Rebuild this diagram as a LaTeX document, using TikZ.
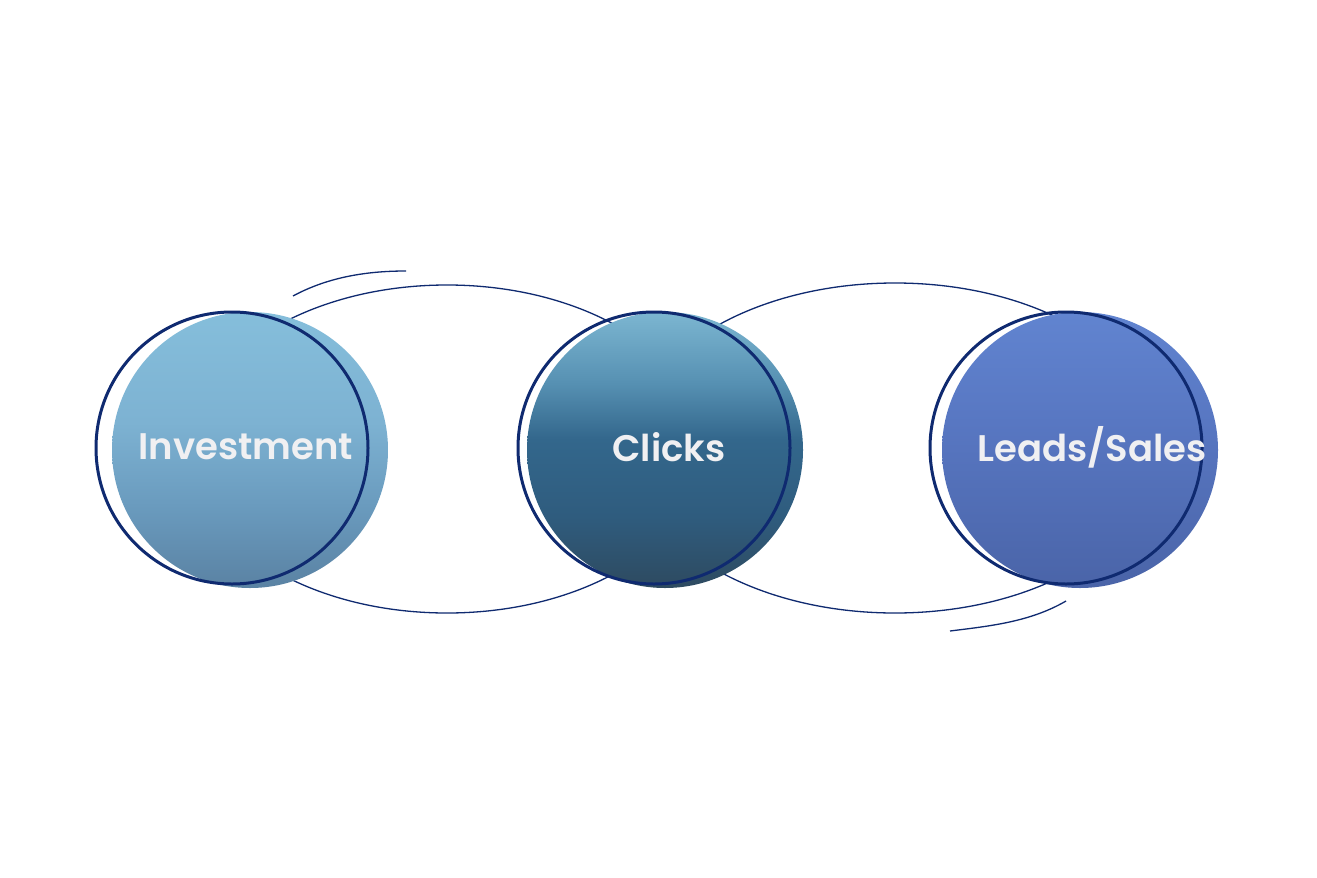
\documentclass[tikz,border=0pt]{standalone}
\usepackage{fontspec}
\setmainfont{Poppins}[BoldFont={Poppins SemiBold}]
\definecolor{navyline}{HTML}{0F2A70}
\definecolor{labeltext}{HTML}{F0F0F2}
\definecolor{invtop}{HTML}{85BEDB}
\definecolor{invmid}{HTML}{7DB2D2}
\definecolor{invlow}{HTML}{6A9BBE}
\definecolor{invbot}{HTML}{5A82A3}
\definecolor{clktop}{HTML}{7CB6D1}
\definecolor{clkup}{HTML}{5690B2}
\definecolor{clkmid}{HTML}{33678C}
\definecolor{clklow}{HTML}{2F5C7E}
\definecolor{clkbot}{HTML}{2E4A60}
\definecolor{ledtop}{HTML}{6184D0}
\definecolor{ledmid}{HTML}{5877C2}
\definecolor{ledbot}{HTML}{4A64A8}
\pgfdeclareverticalshading{invshade}{100bp}{color(0bp)=(invbot); color(25bp)=(invbot); color(40bp)=(invlow); color(55bp)=(invmid); color(75bp)=(invtop); color(100bp)=(invtop)}
\pgfdeclareverticalshading{clkshade}{100bp}{color(0bp)=(clkbot); color(25bp)=(clkbot); color(38bp)=(clklow); color(52bp)=(clkmid); color(62bp)=(clkup); color(75bp)=(clktop); color(100bp)=(clktop)}
\pgfdeclareverticalshading{ledshade}{100bp}{color(0bp)=(ledbot); color(25bp)=(ledbot); color(55bp)=(ledmid); color(75bp)=(ledtop); color(100bp)=(ledtop)}
\begin{document}
\begin{tikzpicture}[x=1pt,y=-1pt,
  loopline/.style={draw=navyline,line width=1.3pt},
  ring/.style={draw=navyline,line width=3pt,circle,minimum size=272pt,inner sep=0pt},
  label/.style={text=labeltext,font=\fontsize{37}{44}\selectfont\bfseries}]
\useasboundingbox[fill=white] (0,0) rectangle (1317,878);
% loops behind
\draw[loopline] (447,449) ellipse [x radius=257, y radius=164];
\draw[loopline] (895,448) ellipse [x radius=265, y radius=165];
\coordinate (s1a) at (293,296);
\coordinate (s1b) at (406,271);
\coordinate (s2a) at (1066,601);
\coordinate (s2b) at (950,631);
\draw[loopline] (s1a) .. controls (330,276) and (370,271) .. (s1b);
\draw[loopline] (s2a) .. controls (1030,622) and (990,626) .. (s2b);
% filled discs
\shade[shading=invshade] (250,450) circle [radius=138];
\shade[shading=clkshade] (665,450) circle [radius=138];
\shade[shading=ledshade] (1080,450) circle [radius=138];
% rings
\node[ring] (inv) at (232,448) {};
\node[ring] (clk) at (654,448) {};
\node[ring] (led) at (1066,448) {};
% labels
\node[label] (invt) at (246,447) {Investment};
\node[label] (clkt) at (669,447) {Clicks};
\node[label] (ledt) at (1092,447) {Leads/Sales};
\end{tikzpicture}
\end{document}
